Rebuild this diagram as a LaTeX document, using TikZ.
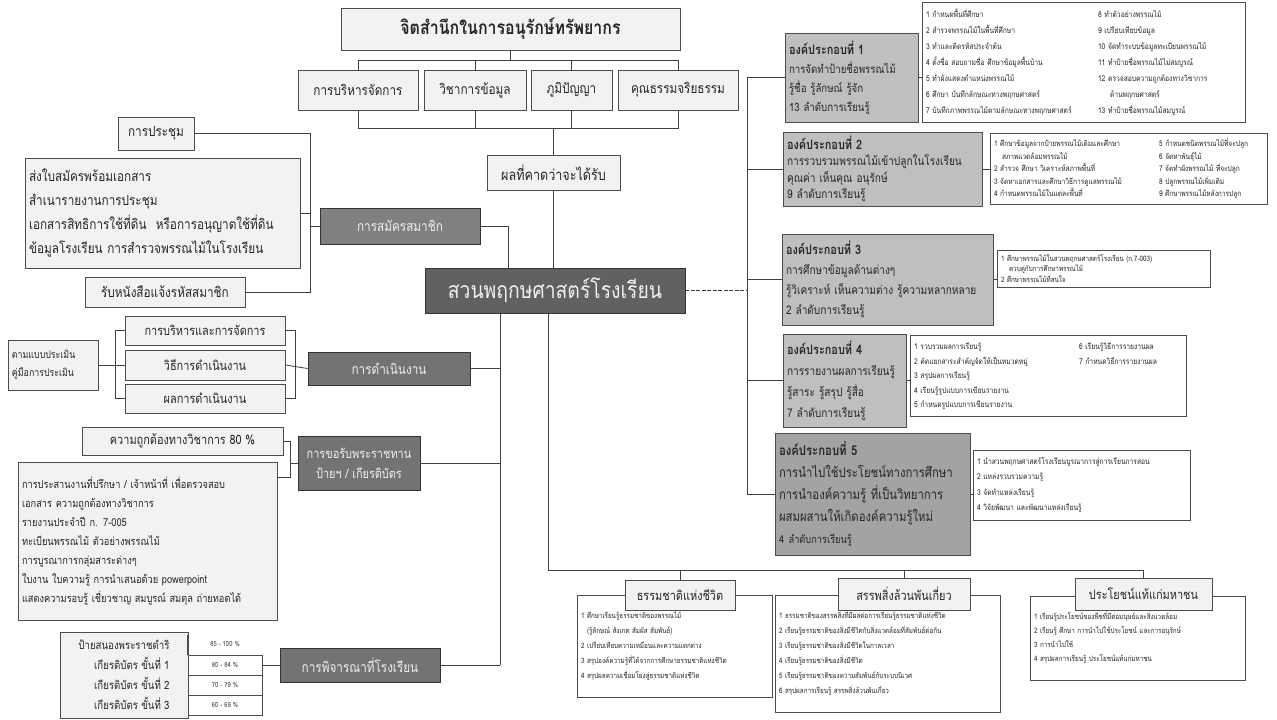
\documentclass[tikz,border=0pt]{standalone}
\usepackage{fontspec}
\setmainfont[Script=Thai,FakeStretch=0.84]{Loma}
\usetikzlibrary{calc}
\newcommand\mkbox[7]{\node[#2,minimum width={(#5)-(#3)},minimum height={(#6)-(#4)}] (#1) at ({((#3)+(#5))/2},{((#4)+(#6))/2}) {#7};}
\newcommand\mkboxl[7]{\pgfmathsetmacro\tw{(#5)-(#3)-8}\node[#2,text width=\tw pt,minimum height={(#6)-(#4)}] (#1) at ({((#3)+(#5))/2},{((#4)+(#6))/2}) {#7};}
\tikzset{
 ln/.style={draw=black!75, line width=0.8pt},
 lbox/.style={draw=black!70, fill=black!5, line width=0.8pt, inner sep=2pt, align=center, text=black!85, font=\fontsize{14}{18}\selectfont},
 dbox/.style={draw=black!80, fill=black!55, line width=0.8pt, inner sep=2pt, align=center, text=black!6, font=\fontsize{14}{18}\selectfont},
 kbox/.style={draw=black!70, fill=black!25, line width=0.8pt, inner sep=4pt, align=left, text=black!85, font=\fontsize{12}{19}\selectfont},
 ibox/.style={draw=black!70, fill=white, line width=0.6pt, inner sep=4pt, align=left, text=black!85, font=\fontsize{8}{14}\selectfont},
 hbox/.style={draw=black!70, fill=black!5, line width=0.8pt, inner sep=2pt, align=center, text=black!85, font=\fontsize{13}{16}\selectfont},
 tbox/.style={draw=black!70, fill=white, line width=0.6pt, inner sep=1pt, text=black!75, font=\fontsize{7}{8}\selectfont},
}
\begin{document}
\begin{tikzpicture}[x=1pt,y=-1pt]
\fill[white] (0,0) rectangle (1277,720);
\useasboundingbox (0,0) rectangle (1277,720);

% ---------- top ----------
\mkbox{title}{lbox,font=\fontsize{19}{22}\selectfont\bfseries}{341}{8}{680}{50}{จิตสำนึกในการอนุรักษ์ทรัพยากร}
\mkbox{b1}{lbox}{298}{70}{418}{110}{การบริหารจัดการ}
\mkbox{b2}{lbox}{424}{70}{526}{110}{วิชาการข้อมูล}
\mkbox{b3}{lbox}{531}{70}{612}{110}{ภูมิปัญญา}
\mkbox{b4}{lbox}{618}{70}{738}{110}{คุณธรรมจริยธรรม}
\mkbox{exp}{lbox,font=\fontsize{15}{18}\selectfont}{487}{155}{620}{190}{ผลที่คาดว่าจะได้รับ}
\mkbox{main}{dbox,fill=black!62,font=\fontsize{23}{28}\selectfont}{425}{268}{685}{313}{สวนพฤกษศาสตร์โรงเรียน}

\coordinate (topbar) at (0,60);
\coordinate (botbar) at (0,128);
\draw[ln] (title.south) -- (title.south |- topbar);
\draw[ln] (b1.north) -- (b1.north |- topbar) -- (b4.north |- topbar) -- (b4.north);
\draw[ln] (b2.north) -- (b2.north |- topbar);
\draw[ln] (b3.north) -- (b3.north |- topbar);
\draw[ln] (b1.south) -- (b1.south |- botbar) -- (b4.south |- botbar) -- (b4.south);
\draw[ln] (b2.south) -- (b2.south |- botbar);
\draw[ln] (b3.south) -- (b3.south |- botbar);
\draw[ln] (exp.north |- botbar) -- (exp.north);
\draw[ln] (exp.south) -- (exp.south |- main.north);

% ---------- left: membership ----------
\mkbox{prc}{lbox}{118}{117}{194}{150}{การประชุม}
\mkboxl{doc}{lbox,align=left,inner sep=4pt,font=\fontsize{14}{24}\selectfont}{25}{158}{300}{268}{ส่งใบสมัครพร้อมเอกสาร\\สำเนารายงานการประชุม\\เอกสารสิทธิการใช้ที่ดิน\ \ หรือการอนุญาตใช้ที่ดิน\\ข้อมูลโรงเรียน การสำรวจพรรณไม้ในโรงเรียน}
\mkbox{rcv}{lbox}{85}{277}{245}{307}{รับหนังสือแจ้งรหัสสมาชิก}
\mkbox{app}{dbox,fill=black!50}{320}{208}{480}{244}{การสมัครสมาชิก}
\coordinate (L1) at (310,0);
\draw[ln] (prc.east) -- (prc.east -| L1) -- (rcv.east -| L1) -- (rcv.east);
\draw[ln] (doc.east) -- (doc.east -| L1);
\draw[ln] (app.west -| L1) -- (app.west);
\coordinate (B0) at (508,0);
\draw[ln] (app.east) -- (app.east -| B0) -- (B0 |- main.north);

% ---------- left: operation ----------
\mkbox{m1}{lbox,font=\fontsize{13}{16}\selectfont}{125}{316}{285}{345}{การบริหารและการจัดการ}
\mkbox{m2}{lbox,font=\fontsize{13}{16}\selectfont}{125}{350}{285}{380}{วิธีการดำเนินงาน}
\mkbox{m3}{lbox,font=\fontsize{13}{16}\selectfont}{125}{384}{285}{413}{ผลการดำเนินงาน}
\mkboxl{eval}{lbox,align=left,inner sep=4pt,font=\fontsize{10.5}{18}\selectfont}{8}{340}{98}{390}{ตามแบบประเมิน\\คู่มือการประเมิน}
\mkbox{op}{dbox}{308}{352}{470}{385}{การดำเนินงาน}
\coordinate (L2) at (115,0);
\coordinate (R2) at (295,0);
\draw[ln] (m1.west) -- (m1.west -| L2) -- (m3.west -| L2) -- (m3.west);
\draw[ln] (eval.east) -- (m2.west);
\draw[ln] (m1.east) -- (m1.east -| R2) -- (m3.east -| R2) -- (m3.east);
\draw[ln] (m2.east) -- (op.west);

% ---------- left: royal award ----------
\mkbox{acc}{lbox,font=\fontsize{13}{16}\selectfont}{82}{427}{283}{455}{ความถูกต้องทางวิชาการ 80 \%}
\mkboxl{docB}{lbox,align=left,inner sep=4pt,font=\fontsize{11}{19}\selectfont}{18}{462}{277}{620}{การประสานงานที่ปรึกษา / เจ้าหน้าที่ เพื่อตรวจสอบ\\เอกสาร ความถูกต้องทางวิชาการ\\รายงานประจำปี ก. 7-005\\ทะเบียนพรรณไม้ ตัวอย่างพรรณไม้\\การบูรณาการกลุ่มสาระต่างๆ\\ใบงาน ใบความรู้ การนำเสนอด้วย powerpoint\\แสดงความรอบรู้ เชี่ยวชาญ สมบูรณ์ สมดุล ถ่ายทอดได้}
\mkbox{royal}{dbox,font=\fontsize{13}{20}\selectfont}{298}{436}{420}{490}{การขอรับพระราชทาน\\ป้ายฯ / เกียรติบัตร}
\coordinate (R3) at (290,0);
\draw[ln] (acc.east) -- (acc.east -| R3) -- (R3 |- {$(docB.north east)+(0,16)$}) -- ($(docB.north east)+(0,16)$);
\draw[ln] (royal.west -| R3) -- (royal.west);

% ---------- left: school consideration ----------
\mkbox{ptab}{lbox,align=right,inner sep=4pt,font=\fontsize{11.5}{20}\selectfont}{60}{632}{188}{718}{ป้ายสนองพระราชดำริ\\เกียรติบัตร ขั้นที่ 1\\เกียรติบัตร ขั้นที่ 2\\เกียรติบัตร ขั้นที่ 3}
\node[font=\fontsize{7}{8}\selectfont, text=black!75] (t1) at (225,644) {85 - 100 \%};
\mkbox{t2}{tbox}{188}{655}{262}{675}{80 - 84 \%}
\mkbox{t3}{tbox}{188}{675}{262}{695}{70 - 79 \%}
\mkbox{t4}{tbox}{188}{695}{262}{715}{60 - 69 \%}
\draw[draw=black!70,line width=0.6pt] (t2.north west) -- ($(t2.north west)+(0,-20)$);
\mkbox{cons}{dbox}{280}{648}{440}{682}{การพิจารณาที่โรงเรียน}
\draw[ln] (t2.east) -- (t2.east -| cons.west);

\coordinate (B1) at (500,0);
\draw[ln] (B1 |- main.south) -- (B1 |- cons.east);
\draw[ln] (op.east) -- (op.east -| B1);
\draw[ln] (royal.east) -- (royal.east -| B1);
\draw[ln] (cons.east) -- (cons.east -| B1);

% ---------- right: components ----------
\mkboxl{k1}{kbox,font=\fontsize{11.5}{19}\selectfont}{785}{33}{918}{122}{{\fontsize{13}{19}\selectfont\bfseries องค์ประกอบที่ 1}\\การจัดทำป้ายชื่อพรรณไม้\\รู้ชื่อ รู้ลักษณ์ รู้จัก\\13 ลำดับการเรียนรู้}
\mkboxl{i1}{ibox,font=\fontsize{8}{16}\selectfont}{922}{3}{1245}{122}{\begin{tabular}{@{}p{172pt}@{}l@{}}
1 กำหนดพื้นที่ศึกษา & 8 ทำตัวอย่างพรรณไม้\\
2 สำรวจพรรณไม้ในพื้นที่ศึกษา & 9 เปรียบเทียบข้อมูล\\
3 ทำและติดรหัสประจำต้น & 10 จัดทำระบบข้อมูลทะเบียนพรรณไม้\\
4 ตั้งชื่อ สอบถามชื่อ ศึกษาข้อมูลพื้นบ้าน & 11 ทำป้ายชื่อพรรณไม้ไม่สมบูรณ์\\
5 ทำผังแสดงตำแหน่งพรรณไม้ & 12 ตรวจสอบความถูกต้องทางวิชาการ\\
6 ศึกษา บันทึกลักษณะทางพฤกษศาสตร์ & \hspace{12pt}ด้านพฤกษศาสตร์\\
7 บันทึกภาพพรรณไม้ตามลักษณะทางพฤกษศาสตร์ & 13 ทำป้ายชื่อพรรณไม้สมบูรณ์
\end{tabular}}

\mkboxl{k2}{kbox,font=\fontsize{12}{16.5}\selectfont}{783}{133}{982}{205}{{\fontsize{13}{16.5}\selectfont\bfseries องค์ประกอบที่ 2}\\การรวบรวมพรรณไม้เข้าปลูกในโรงเรียน\\คุณค่า เห็นคุณ อนุรักษ์\\9 ลำดับการเรียนรู้}
\mkboxl{i2}{ibox,font=\fontsize{7.8}{12.5}\selectfont}{990}{136}{1267}{202}{\begin{tabular}{@{}p{165pt}@{}l@{}}
1 ศึกษาข้อมูลจากป้ายพรรณไม้เดิมและศึกษา & 5 กำหนดชนิดพรรณไม้ที่จะปลูก\\
\hspace{8pt}สภาพแวดล้อมพรรณไม้ & 6 จัดหาพันธุ์ไม้\\
2 สำรวจ ศึกษา วิเคราะห์สภาพพื้นที่ & 7 จัดทำผังพรรณไม้ ที่จะปลูก\\
3 จัดหาเอกสารและศึกษาวิธีการดูแลพรรณไม้ & 8 ปลูกพรรณไม้เพิ่มเติม\\
4 กำหนดพรรณไม้ในแต่ละพื้นที่ & 9 ศึกษาพรรณไม้หลังการปลูก
\end{tabular}}

\mkboxl{k3}{kbox,font=\fontsize{12}{20}\selectfont}{782}{234}{993}{325}{{\fontsize{13}{20}\selectfont\bfseries องค์ประกอบที่ 3}\\การศึกษาข้อมูลด้านต่างๆ\\รู้วิเคราะห์ เห็นความต่าง รู้ความหลากหลาย\\2 ลำดับการเรียนรู้}
\mkboxl{i3}{ibox,font=\fontsize{7.5}{10.5}\selectfont}{997}{250}{1210}{287}{1 ศึกษาพรรณไม้ในสวนพฤกษศาสตร์โรงเรียน (ก.7-003)\\\hspace{8pt}ควบคู่กับการศึกษาพรรณไม้\\2 ศึกษาพรรณไม้ที่สนใจ}

\mkboxl{k4}{kbox,font=\fontsize{12}{21}\selectfont}{783}{334}{906}{427}{{\fontsize{13}{21}\selectfont\bfseries องค์ประกอบที่ 4}\\การรายงานผลการเรียนรู้\\รู้สาระ รู้สรุป รู้สื่อ\\7 ลำดับการเรียนรู้}
\mkboxl{i4}{ibox,font=\fontsize{8}{14.5}\selectfont}{910}{337}{1186}{415}{\begin{tabular}{@{}p{165pt}@{}l@{}}
1 รวบรวมผลการเรียนรู้ & 6 เรียนรู้วิธีการรายงานผล\\
2 คัดแยกสาระสำคัญจัดให้เป็นหมวดหมู่ & 7 กำหนดวิธีการรายงานผล\\
3 สรุปผลการเรียนรู้ & \\
4 เรียนรู้รูปแบบการเขียนรายงาน & \\
5 กำหนดรูปแบบการเขียนรายงาน &
\end{tabular}}

\mkboxl{k5}{kbox,fill=black!36,font=\fontsize{13.5}{22}\selectfont}{775}{433}{970}{555}{{\bfseries องค์ประกอบที่ 5}\\การนำไปใช้ประโยชน์ทางการศึกษา\\การนำองค์ความรู้ ที่เป็นวิทยาการ\\ผสมผสานให้เกิดองค์ความรู้ใหม่\\{\fontsize{11}{18}\selectfont 4 ลำดับการเรียนรู้}}
\mkboxl{i5}{ibox,font=\fontsize{8}{15.5}\selectfont}{973}{450}{1190}{520}{1 นำสวนพฤกษศาสตร์โรงเรียนบูรณาการสู่การเรียนการสอน\\2 แหล่งรวบรวมความรู้\\3 จัดทำแหล่งเรียนรู้\\4 วิจัยพัฒนา และพัฒนาแหล่งเรียนรู้}

\coordinate (RB) at (747,0);
\draw[ln,dash pattern=on 4pt off 1.5pt] (main.east) -- (main.east -| RB);
\draw[ln] (RB |- k1.west) -- (RB |- k5.west);
\foreach \k in {k1,k2,k3,k4,k5} \draw[ln] (RB |- \k.west) -- (\k.west);
\draw[ln] (k1.east) -- (k1.east -| i1.west);
\draw[ln] (k2.east) -- (k2.east -| i2.west);
\draw[ln] (k3.east) -- (k3.east -| i3.west);
\draw[ln] (k4.east) -- (k4.east -| i4.west);
\draw[ln] (k5.east) -- (k5.east -| i5.west);

% ---------- bottom ----------
\mkboxl{ib1}{ibox,font=\fontsize{7.5}{15}\selectfont}{577}{595}{772}{697}{1 ศึกษาเรียนรู้ธรรมชาติของพรรณไม้\\\hspace{6pt}(รู้ลักษณ์ สังเกต สัมผัส สัมพันธ์)\\2 เปรียบเทียบความเหมือนและความแตกต่าง\\3 สรุปองค์ความรู้ที่ได้จากการศึกษาธรรมชาติแห่งชีวิต\\4 สรุปผลความเชื่อมโยงสู่ธรรมชาติแห่งชีวิต}
\mkboxl{ib2}{ibox,font=\fontsize{7.5}{15}\selectfont}{775}{595}{1000}{712}{1 ธรรมชาติของสรรพสิ่งที่มีผลต่อการเรียนรู้ธรรมชาติแห่งชีวิต\\2 เรียนรู้ธรรมชาติของสิ่งมีชีวิตกับสิ่งแวดล้อมที่สัมพันธ์ต่อกัน\\3 เรียนรู้ธรรมชาติของสิ่งมีชีวิตในกาลเวลา\\4 เรียนรู้ธรรมชาติของสิ่งมีชีวิต\\5 เรียนรู้ธรรมชาติของความสัมพันธ์กับระบบนิเวศ\\6 สรุปผลการเรียนรู้ สรรพสิ่งล้วนพันเกี่ยว}
\mkboxl{ib3}{ibox,font=\fontsize{7.5}{14}\selectfont}{1030}{596}{1245}{680}{1 เรียนรู้ประโยชน์ของพืชที่มีต่อมนุษย์และสิ่งแวดล้อม\\2 เรียนรู้ ศึกษา การนำไปใช้ประโยชน์ และการอนุรักษ์\\3 การนำไปใช้\\4 สรุปผลการเรียนรู้ ประโยชน์แท้แก่มหาชน}
\mkbox{h1}{hbox}{625}{580}{735}{610}{ธรรมชาติแห่งชีวิต}
\mkbox{h2}{hbox}{838}{578}{970}{610}{สรรพสิ่งล้วนพันเกี่ยว}
\mkbox{h3}{hbox}{1075}{578}{1212}{610}{ประโยชน์แท้แก่มหาชน}

\coordinate (B2) at (548,570);
\draw[ln] (B2 |- main.south) -- (B2) -- (B2 -| h3.north);
\draw[ln] (B2 -| h1.north) -- (h1.north);
\draw[ln] (B2 -| h2.north) -- (h2.north);
\draw[ln] (B2 -| h3.north) -- (h3.north);
\end{tikzpicture}
\end{document}
